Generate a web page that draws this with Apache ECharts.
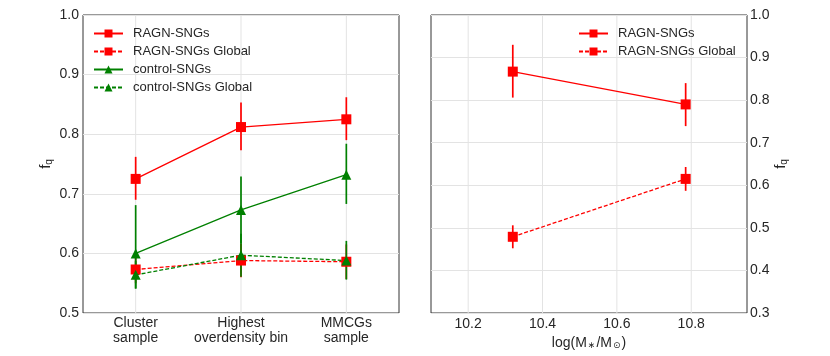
<!DOCTYPE html>
<html>
<head>
<meta charset="utf-8">
<script src="https://cdn.jsdelivr.net/npm/echarts@6/dist/echarts.min.js"></script>
<style>
  html, body { margin: 0; padding: 0; background: #fff; }
  #chart { width: 830px; height: 356px; }
</style>
</head>
<body>
<div id="chart"></div>
<script>
// left panel: samples
const categories = ['Cluster\nsample', 'Highest\noverdensity bin', 'MMCGs\nsample']
const catPos = [0, 1, 2]
const ragnVal = [0.725, 0.812, 0.825]
const ragnLo = [0.690, 0.773, 0.790]
const ragnHi = [0.762, 0.853, 0.862]
const ragnGlobVal = [0.573, 0.588, 0.586]
const ragnGlobLo = [0.550, 0.560, 0.557]
const ragnGlobHi = [0.596, 0.616, 0.615]
const ctrlVal = [0.600, 0.673, 0.732]
const ctrlLo = [0.541, 0.617, 0.683]
const ctrlHi = [0.681, 0.729, 0.784]
const ctrlGlobVal = [0.564, 0.597, 0.588]
const ctrlGlobLo = [0.541, 0.561, 0.556]
const ctrlGlobHi = [0.587, 0.633, 0.621]

// right panel: stellar mass bins
const massBins = [10.32, 10.785]
const massRagnVal = [0.867, 0.790]
const massRagnLo = [0.806, 0.739]
const massRagnHi = [0.930, 0.840]
const massGlobVal = [0.479, 0.615]
const massGlobLo = [0.452, 0.587]
const massGlobHi = [0.506, 0.643]
const massTicks = [10.2, 10.4, 10.6, 10.8]

const RED = '#ff0000'
const GREEN = '#008000'
const FONT = 'Liberation Sans, Arial, sans-serif'
const TXT = '#262626'

const pairs = (xs, ys) => xs.map((x, i) => [x, ys[i]])

// vertical error bars
const errBars = (axis, xs, lo, hi, color) => ({
  type: 'custom',
  xAxisIndex: axis,
  yAxisIndex: axis,
  silent: true,
  z: 2,
  data: xs.map((x, i) => [x, lo[i], hi[i]]),
  encode: { x: 0, y: [1, 2] },
  renderItem: (params, api) => {
    const a = api.coord([api.value(0), api.value(1)])
    const b = api.coord([api.value(0), api.value(2)])
    return {
      type: 'line',
      shape: { x1: a[0], y1: a[1], x2: b[0], y2: b[1] },
      style: { stroke: color, lineWidth: 1.7 }
    }
  }
})

// vertical grid lines at the tick positions
const vGrid = (axis, xs) => ({
  type: 'custom',
  xAxisIndex: axis,
  yAxisIndex: axis,
  silent: true,
  z: 1,
  data: xs.map(x => [x]),
  encode: { x: 0 },
  renderItem: (params, api) => {
    const cs = params.coordSys
    const x = api.coord([api.value(0), 0])[0]
    return {
      type: 'line',
      shape: { x1: x, y1: cs.y, x2: x, y2: cs.y + cs.height },
      style: { stroke: '#e3e3e3', lineWidth: 1 }
    }
  }
})

const lineSeries = (axis, name, xs, ys, color, dashed, symbol) => ({
  type: 'line',
  name,
  xAxisIndex: axis,
  yAxisIndex: axis,
  data: pairs(xs, ys),
  symbol,
  symbolSize: symbol === 'rect' ? 10 : 10,
  lineStyle: { color, width: 1.3, type: dashed ? [4, 2] : 'solid' },
  itemStyle: { color },
  z: 3
})

const yName = {
  name: 'f{s|q}',
  nameLocation: 'middle',
  nameRotate: 90,
  nameTextStyle: {
    fontFamily: FONT, fontSize: 15, color: TXT,
    rich: { s: { fontFamily: FONT, fontSize: 10, color: TXT, verticalAlign: 'bottom', padding: [6, 0, 0, 0] } }
  }
}

const legendBase = {
  orient: 'vertical',
  top: 22,
  itemWidth: 29,
  itemHeight: 10,
  itemGap: 5,
  textStyle: { fontFamily: FONT, fontSize: 13, color: TXT, padding: [0, 0, 0, 5] }
}

const option = {
  animation: false,
  textStyle: { fontFamily: FONT },
  grid: [
    { left: 83, top: 15, width: 316, height: 298, show: true, borderColor: '#333', borderWidth: 1 },
    { left: 431, top: 15, width: 316, height: 298, show: true, borderColor: '#333', borderWidth: 1 }
  ],
  legend: [
    Object.assign({}, legendBase, {
      left: 88,
      data: ['RAGN-SNGs', 'RAGN-SNGs Global', 'control-SNGs', 'control-SNGs Global']
    }),
    Object.assign({}, legendBase, {
      left: 573,
      data: ['RAGN-SNGs', 'RAGN-SNGs Global']
    })
  ],
  xAxis: [
    {
      type: 'value',
      gridIndex: 0,
      min: -0.5,
      max: 2.5,
      interval: 0.5,
      axisLine: { show: false },
      axisTick: { show: false },
      splitLine: { show: false },
      axisLabel: {
        margin: 3,
        fontSize: 14,
        lineHeight: 15,
        color: TXT,
        fontFamily: FONT,
        formatter: v => {
          const i = Math.round(v)
          return Math.abs(v - i) < 1e-6 && categories[i] ? categories[i] : ''
        }
      }
    },
    {
      type: 'value',
      gridIndex: 1,
      min: 10.1,
      max: 10.95,
      interval: 0.05,
      axisLine: { show: false },
      axisTick: { show: false },
      splitLine: { show: false },
      axisLabel: {
        margin: 4,
        fontSize: 14,
        color: TXT,
        fontFamily: FONT,
        formatter: v => massTicks.some(t => Math.abs(t - v) < 1e-6) ? v.toFixed(1) : ''
      },
      name: 'log(M{s|∗}/M{s|⊙})',
      nameLocation: 'middle',
      nameGap: 18,
      nameTextStyle: {
        fontFamily: FONT, fontSize: 14, color: TXT,
        rich: { s: { fontFamily: 'DejaVu Sans', fontSize: 9, color: TXT, padding: [6, 1, 0, 1] } }
      }
    }
  ],
  yAxis: [
    Object.assign({
      type: 'value',
      gridIndex: 0,
      min: 0.5,
      max: 1.0,
      interval: 0.1,
      nameGap: 29,
      axisLine: { show: false },
      axisTick: { show: false },
      splitLine: { lineStyle: { color: '#e3e3e3', width: 1 } },
      axisLabel: { margin: 4, fontSize: 14, color: TXT, fontFamily: FONT, formatter: v => v.toFixed(1) }
    }, yName),
    Object.assign({
      type: 'value',
      gridIndex: 1,
      position: 'right',
      min: 0.3,
      max: 1.0,
      interval: 0.1,
      nameGap: 24,
      axisLine: { show: false },
      axisTick: { show: false },
      splitLine: { lineStyle: { color: '#e3e3e3', width: 1 } },
      axisLabel: { margin: 3, fontSize: 14, color: TXT, fontFamily: FONT, formatter: v => v.toFixed(1) }
    }, yName)
  ],
  series: [
    vGrid(0, catPos),
    vGrid(1, massTicks),
    errBars(0, catPos, ragnLo, ragnHi, RED),
    lineSeries(0, 'RAGN-SNGs', catPos, ragnVal, RED, false, 'rect'),
    errBars(0, catPos, ragnGlobLo, ragnGlobHi, RED),
    lineSeries(0, 'RAGN-SNGs Global', catPos, ragnGlobVal, RED, true, 'rect'),
    errBars(0, catPos, ctrlLo, ctrlHi, GREEN),
    lineSeries(0, 'control-SNGs', catPos, ctrlVal, GREEN, false, 'triangle'),
    errBars(0, catPos, ctrlGlobLo, ctrlGlobHi, GREEN),
    lineSeries(0, 'control-SNGs Global', catPos, ctrlGlobVal, GREEN, true, 'triangle'),
    errBars(1, massBins, massRagnLo, massRagnHi, RED),
    lineSeries(1, 'RAGN-SNGs', massBins, massRagnVal, RED, false, 'rect'),
    errBars(1, massBins, massGlobLo, massGlobHi, RED),
    lineSeries(1, 'RAGN-SNGs Global', massBins, massGlobVal, RED, true, 'rect')
  ]
}

const chart = echarts.init(document.getElementById('chart'))
chart.setOption(option)
</script>
</body>
</html>
